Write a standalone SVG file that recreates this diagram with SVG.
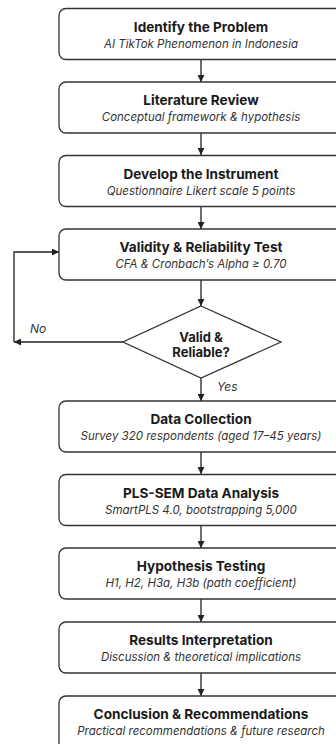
<svg xmlns="http://www.w3.org/2000/svg" width="336" height="744" viewBox="0 0 336 744">
  <defs>
    <marker id="arr" viewBox="0 0 10 10" refX="10" refY="5" markerWidth="7" markerHeight="7" markerUnits="userSpaceOnUse" orient="auto">
      <path d="M0,0 L10,5 L0,10 Z" fill="#222"/>
    </marker>
  </defs>
  <style>
    .box { fill: #ffffff; stroke: #333333; stroke-width: 1.3; }
    .t { font-family: Inter, "Liberation Sans", sans-serif; font-weight: 700; font-size: 13.6px; fill: #1a1a1a; text-anchor: middle; }
    .s { font-family: Inter, "Liberation Sans", sans-serif; font-style: italic; font-size: 11.5px; fill: #333333; text-anchor: middle; }
    .d { font-family: Inter, "Liberation Sans", sans-serif; font-weight: 700; font-size: 13px; fill: #1a1a1a; text-anchor: middle; }
    .lbl { font-family: Inter, "Liberation Sans", sans-serif; font-style: italic; font-size: 12px; fill: #333333; }
    .c { fill: none; stroke: #222222; stroke-width: 1.3; }
  </style>
  <rect width="336" height="744" fill="#ffffff"/>

  <g id="connectors">
    <line class="c" x1="201" y1="60" x2="201" y2="82" marker-end="url(#arr)"/>
    <line class="c" x1="201" y1="133" x2="201" y2="155" marker-end="url(#arr)"/>
    <line class="c" x1="201" y1="206" x2="201" y2="229" marker-end="url(#arr)"/>
    <line class="c" x1="201" y1="280" x2="201" y2="306" marker-end="url(#arr)"/>
    <line class="c" x1="201" y1="378" x2="201" y2="401" marker-end="url(#arr)"/>
    <line class="c" x1="201" y1="452" x2="201" y2="474" marker-end="url(#arr)"/>
    <line class="c" x1="201" y1="525" x2="201" y2="548" marker-end="url(#arr)"/>
    <line class="c" x1="201" y1="599" x2="201" y2="622" marker-end="url(#arr)"/>
    <line class="c" x1="201" y1="673" x2="201" y2="696" marker-end="url(#arr)"/>
    <!-- "No" loop back to the validity test -->
    <line class="c" x1="123" y1="342" x2="14" y2="342" marker-end="url(#arr)"/>
    <polyline class="c" points="14,342 14,252 59,252" marker-end="url(#arr)"/>
    <text class="lbl" x="30" y="333">No</text>
    <text class="lbl" x="217" y="391">Yes</text>
  </g>

  <g id="identify">
    <rect class="box" x="59" y="8.5" width="290" height="51" rx="7"/>
    <text class="t" x="201" y="31.5">Identify the Problem</text>
    <text class="s" x="201" y="47.5">AI TikTok Phenomenon in Indonesia</text>
  </g>
  <g id="literature">
    <rect class="box" x="59" y="82" width="290" height="51" rx="7"/>
    <text class="t" x="201" y="105">Literature Review</text>
    <text class="s" x="201" y="121">Conceptual framework &amp; hypothesis</text>
  </g>
  <g id="instrument">
    <rect class="box" x="59" y="155.5" width="290" height="51" rx="7"/>
    <text class="t" x="201" y="178.5">Develop the Instrument</text>
    <text class="s" x="201" y="194.5">Questionnaire Likert scale 5 points</text>
  </g>
  <g id="validity">
    <rect class="box" x="59" y="229" width="290" height="51" rx="7"/>
    <text class="t" x="201" y="252">Validity &amp; Reliability Test</text>
    <text class="s" x="201" y="268">CFA &amp; Cronbach’s Alpha  ≥ 0.70</text>
  </g>
  <g id="decision">
    <polygon class="box" points="201,306 281,342 201,378 123,342"/>
    <text class="d" x="201" y="342">Valid &amp;</text>
    <text class="d" x="201" y="357">Reliable?</text>
  </g>
  <g id="collection">
    <rect class="box" x="59" y="401" width="290" height="51" rx="7"/>
    <text class="t" x="201" y="424">Data Collection</text>
    <text class="s" x="201" y="440">Survey 320 respondents (aged 17–45 years)</text>
  </g>
  <g id="analysis">
    <rect class="box" x="59" y="474.5" width="290" height="51" rx="7"/>
    <text class="t" x="201" y="497.5">PLS-SEM Data Analysis</text>
    <text class="s" x="201" y="513.5">SmartPLS 4.0, bootstrapping 5,000</text>
  </g>
  <g id="hypothesis">
    <rect class="box" x="59" y="548" width="290" height="51" rx="7"/>
    <text class="t" x="201" y="571">Hypothesis Testing</text>
    <text class="s" x="201" y="587">H1, H2, H3a, H3b (path coefficient)</text>
  </g>
  <g id="interpretation">
    <rect class="box" x="59" y="622" width="290" height="51" rx="7"/>
    <text class="t" x="201" y="645">Results Interpretation</text>
    <text class="s" x="201" y="661">Discussion &amp; theoretical implications</text>
  </g>
  <g id="conclusion">
    <rect class="box" x="59" y="696" width="290" height="60" rx="7"/>
    <text class="t" x="201" y="719">Conclusion &amp; Recommendations</text>
    <text class="s" x="201" y="735">Practical recommendations &amp; future research</text>
  </g>
</svg>
